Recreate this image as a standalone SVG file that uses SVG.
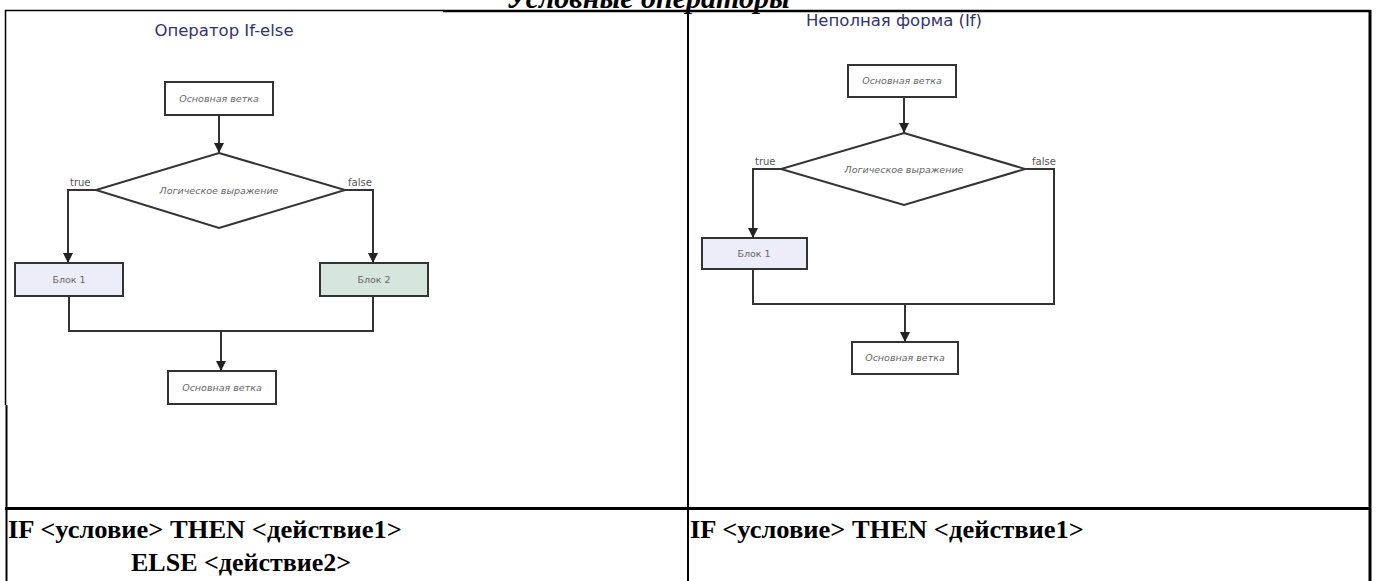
<svg xmlns="http://www.w3.org/2000/svg" width="1377" height="581" viewBox="0 0 1377 581">
<style>
.tbl{stroke:#000;fill:none}
.ttl{font-family:"DejaVu Sans",sans-serif;font-size:16.5px;fill:#33336b;text-anchor:middle}
.box{stroke:#333;stroke-width:2;fill:#fff}
.lbl{font-family:"DejaVu Sans",sans-serif;font-size:9.5px;fill:#666;text-anchor:middle}
.it{font-style:italic}
.tf{font-family:"DejaVu Sans",sans-serif;font-size:10px;fill:#555}
.con{stroke:#333;stroke-width:2;fill:none}
.code{font-family:"Liberation Serif",serif;font-weight:bold;font-size:26px;fill:#000}
</style>
<defs>
<marker id="ah" markerUnits="userSpaceOnUse" markerWidth="10" markerHeight="10" refX="10" refY="5" orient="auto">
<path d="M0,0 L10,5 L0,10 z" fill="#222"/>
</marker>
</defs>
<rect width="1377" height="581" fill="#fff"/>

<g id="heading">
<text x="648" y="8" text-anchor="middle" style="font-family:'Liberation Serif',serif;font-weight:bold;font-style:italic;font-size:30px">Условные операторы</text>
</g>

<g id="table">
<line class="tbl" x1="5" y1="10.5" x2="443" y2="10.5" stroke-width="1.5"/>
<line class="tbl" x1="443" y1="11" x2="1058" y2="11" stroke-width="2.5"/>
<line class="tbl" x1="1058" y1="11" x2="1371" y2="11" stroke-width="2.5"/>
<line class="tbl" x1="5.5" y1="10" x2="5.5" y2="405" stroke-width="1.5"/>
<line class="tbl" x1="6.5" y1="405" x2="6.5" y2="581" stroke-width="2"/>
<line class="tbl" x1="688" y1="10" x2="688" y2="581" stroke-width="2"/>
<line class="tbl" x1="1370" y1="10" x2="1370" y2="581" stroke-width="3"/>
<line class="tbl" x1="5" y1="508.5" x2="1371" y2="508.5" stroke-width="3"/>
</g>

<g id="left-title"><text class="ttl" x="224" y="36">Оператор If-else</text></g>
<g id="left-main"><rect class="box" x="165" y="82" width="108" height="33"/><text class="lbl it" x="219" y="102">Основная ветка</text></g>
<g id="left-cond"><polygon class="box" points="219,153 345,190 219,228 96,190"/><text class="lbl it" x="219" y="194">Логическое выражение</text></g>
<g id="left-block1"><rect class="box" x="15" y="263" width="108" height="33" style="fill:#ededf9"/><text class="lbl" x="69" y="283">Блок 1</text></g>
<g id="left-block2"><rect class="box" x="320" y="263" width="108" height="33" style="fill:#d7e5df"/><text class="lbl" x="374" y="283">Блок 2</text></g>
<g id="left-end"><rect class="box" x="168" y="371" width="108" height="33"/><text class="lbl it" x="222" y="391">Основная ветка</text></g>

<g id="right-title"><text class="ttl" x="894" y="26">Неполная форма (If)</text></g>
<g id="right-main"><rect class="box" x="848" y="65" width="108" height="32"/><text class="lbl it" x="902" y="84">Основная ветка</text></g>
<g id="right-cond"><polygon class="box" points="904,133 1025,169 904,205 781,169"/><text class="lbl it" x="904" y="173">Логическое выражение</text></g>
<g id="right-block1"><rect class="box" x="702" y="238" width="105" height="31" style="fill:#ededf9"/><text class="lbl" x="754" y="257">Блок 1</text></g>
<g id="right-end"><rect class="box" x="852" y="342" width="106" height="32"/><text class="lbl it" x="905" y="361">Основная ветка</text></g>

<g id="connectors">
<line class="con" x1="219" y1="115" x2="219" y2="153" marker-end="url(#ah)"/>
<path class="con" d="M96,190 H68 V263" marker-end="url(#ah)"/>
<path class="con" d="M345,190 H373 V263" marker-end="url(#ah)"/>
<path class="con" d="M69,296 V331 H373 V296"/>
<line class="con" x1="221" y1="331" x2="221" y2="371" marker-end="url(#ah)"/>
<text class="tf" x="70" y="186">true</text>
<text class="tf" x="348" y="186">false</text>

<line class="con" x1="904" y1="97" x2="904" y2="133" marker-end="url(#ah)"/>
<path class="con" d="M781,169 H753 V238" marker-end="url(#ah)"/>
<path class="con" d="M1025,169 H1054 V304 H753 V269"/>
<line class="con" x1="905" y1="304" x2="905" y2="342" marker-end="url(#ah)"/>
<text class="tf" x="755" y="165">true</text>
<text class="tf" x="1032" y="165">false</text>
</g>

<g id="code">
<text class="code" x="8" y="538" textLength="394" lengthAdjust="spacingAndGlyphs">IF &lt;условие&gt; THEN &lt;действие1&gt;</text>
<text class="code" x="131" y="571">ELSE &lt;действие2&gt;</text>
<text class="code" x="690" y="538" textLength="394" lengthAdjust="spacingAndGlyphs">IF &lt;условие&gt; THEN &lt;действие1&gt;</text>
</g>
</svg>
